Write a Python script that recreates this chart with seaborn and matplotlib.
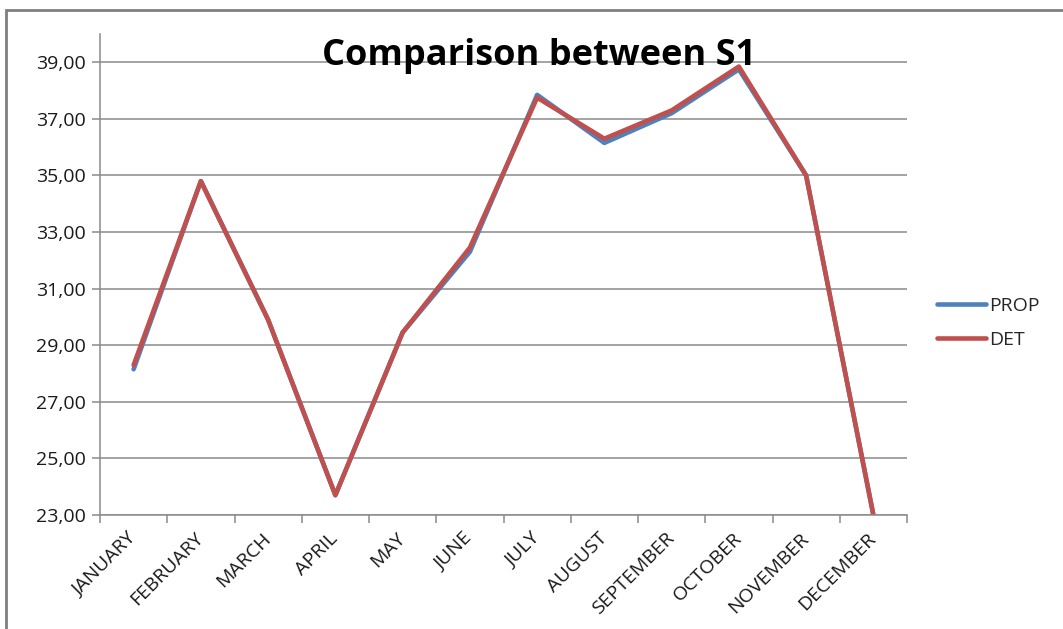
import matplotlib
matplotlib.use("Agg")
import matplotlib.pyplot as plt
from matplotlib.patches import Rectangle
from matplotlib.lines import Line2D
from matplotlib.ticker import FixedLocator, FuncFormatter
import numpy as np
import pandas as pd
import seaborn as sns

months = ["JANUARY", "FEBRUARY", "MARCH", "APRIL", "MAY", "JUNE", "JULY",
          "AUGUST", "SEPTEMBER", "OCTOBER", "NOVEMBER", "DECEMBER"]
prop = [28.15, 34.80, 29.90, 23.70, 29.45, 32.30, 37.85, 36.15, 37.20, 38.75, 35.00, 23.00]
det = [28.30, 34.80, 29.90, 23.70, 29.45, 32.45, 37.75, 36.30, 37.30, 38.85, 35.00, 23.00]
series_names = ["PROP", "DET"]
series_colors = ["#4F81BD", "#C0504D"]
y_ticks = [23, 25, 27, 29, 31, 33, 35, 37, 39]
title = "Comparison between S1"

df = pd.DataFrame({
    "month": months * 2,
    "value": prop + det,
    "series": [series_names[0]] * len(months) + [series_names[1]] * len(months),
})

sns.set_theme(style="white")
plt.rcParams["font.family"] = ["Open Sans", "DejaVu Sans"]

fig = plt.figure(figsize=(10.63, 6.29), dpi=100)
ax = fig.add_axes([100 / 1063, 1 - 515 / 629, 807 / 1063, 481 / 629])

sns.lineplot(data=df, x="month", y="value", hue="series",
             palette=dict(zip(series_names, series_colors)),
             linewidth=3.3, sort=False, ax=ax, legend=False)

grey = "#8a8a8a"
ax.set_xlim(-0.5, len(months) - 0.5)
ax.set_ylim(23, 40)
ax.set_xlabel("")
ax.set_ylabel("")

# horizontal gridlines
ax.yaxis.set_major_locator(FixedLocator(y_ticks))
ax.yaxis.set_major_formatter(FuncFormatter(lambda v, p: f"{v:.2f}".replace(".", ",")))
ax.grid(axis="y", color=grey, linewidth=1.1)
ax.grid(axis="x", visible=False)
ax.set_axisbelow(True)

# category labels at centres, tick marks at category boundaries
ax.set_xticks(np.arange(len(months)))
ax.set_xticklabels(months, rotation=45, ha="right", va="center",
                   rotation_mode="anchor")
ax.set_xticks(np.arange(len(months) + 1) - 0.5, minor=True)
ax.tick_params(axis="x", which="major", length=0, pad=15, labelsize=14,
               labelcolor="#1a1a1a")
ax.tick_params(axis="x", which="minor", length=6, width=1.1, color=grey,
               direction="out", bottom=True)
ax.tick_params(axis="y", length=6, width=1.1, color=grey, direction="out",
               left=True, pad=4, labelsize=14, labelcolor="#1a1a1a")

for side in ("top", "right"):
    ax.spines[side].set_visible(False)
for side in ("left", "bottom"):
    ax.spines[side].set_color(grey)
    ax.spines[side].set_linewidth(1.1)

fig.text(539 / 1063, 1 - 65 / 629, title, ha="center", va="baseline",
         fontsize=26, fontweight="bold", color="black")

handles = [Line2D([], [], color=c, linewidth=3.3) for c in series_colors]
fig.legend(handles, series_names, loc="center left",
           bbox_to_anchor=(937 / 1063, 1 - 323 / 629), frameon=False,
           fontsize=14, handlelength=2.5, handletextpad=0.2,
           labelspacing=0.85, borderpad=0, borderaxespad=0)

# chart area border (top and left edges visible)
fig.patches.append(Rectangle((6 / 1063, -0.1), 1.2, (1 - 10 / 629) + 0.1,
                             transform=fig.transFigure, fill=False,
                             edgecolor="#7f7f7f", linewidth=2))

fig.savefig("out.png", dpi=100)
